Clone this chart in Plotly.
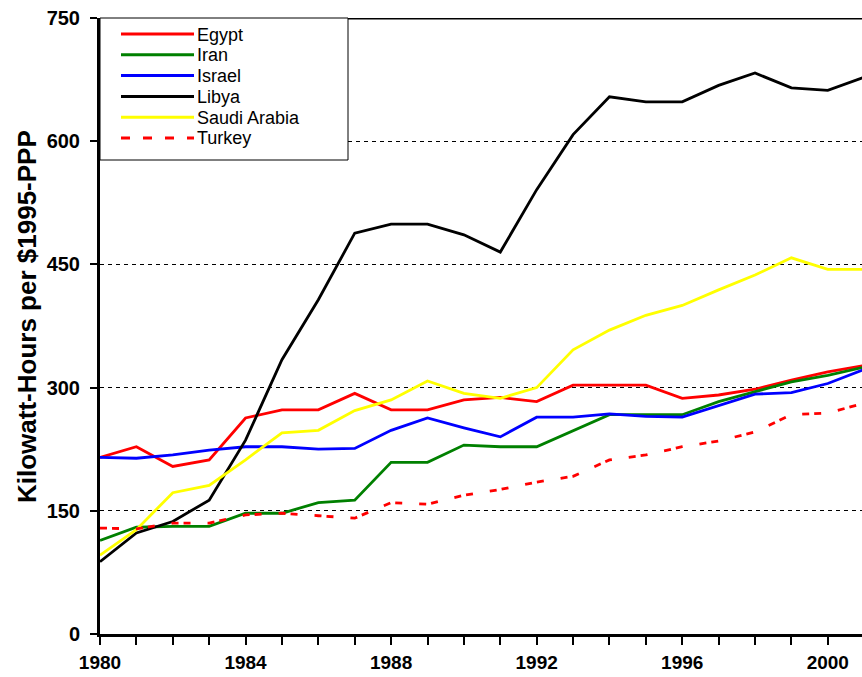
import plotly.graph_objects as go

years = list(range(1980, 2002))
egypt = [215, 228, 204, 212, 263, 273, 273, 293, 273, 273, 285, 288, 283, 303, 303, 303, 287, 291, 298, 309, 319, 327]
iran = [114, 130, 131, 131, 147, 147, 160, 163, 209, 209, 230, 228, 228, 248, 267, 267, 267, 283, 295, 307, 315, 325]
israel = [215, 214, 218, 224, 228, 228, 225, 226, 248, 263, 251, 240, 264, 264, 268, 265, 264, 278, 292, 294, 305, 322]
libya = [88, 123, 137, 163, 236, 334, 407, 488, 499, 499, 486, 465, 541, 608, 654, 648, 648, 668, 683, 665, 662, 678]
saudi = [96, 127, 172, 181, 212, 245, 248, 272, 285, 308, 293, 287, 300, 346, 370, 388, 400, 419, 437, 458, 444, 444]
turkey = [129, 128, 135, 135, 145, 147, 144, 141, 160, 158, 169, 176, 185, 192, 212, 218, 228, 235, 246, 267, 269, 281]

names = ["Egypt", "Iran", "Israel", "Libya", "Saudi Arabia", "Turkey"]
values = [egypt, iran, israel, libya, saudi, turkey]
colors = ["#ff0000", "#008000", "#0000ff", "#000000", "#ffff00", "#ff0000"]
dashes = ["solid", "solid", "solid", "solid", "solid", "7px,5px,7px,17px"]

W, H = 862, 677
ML, MR, MT, MB = 100, 0, 18, 43
PW, PH = W - ML - MR, H - MT - MB


def px(x):
    return (x - ML) / PW


def py(y):
    return (H - MB - y) / PH


fig = go.Figure()
for name, vals, color, dash in zip(names, values, colors, dashes):
    fig.add_trace(go.Scatter(x=years, y=vals, mode="lines", name=name,
                             line=dict(color=color, width=2.8, dash=dash)))

# top frame line
fig.add_shape(type="line", xref="paper", yref="y", x0=0, x1=1, y0=750, y1=750,
              line=dict(color="black", width=3))

# custom legend
fig.add_shape(type="rect", xref="paper", yref="paper", x0=px(100), x1=px(348),
              y0=py(160), y1=py(18), fillcolor="white", line=dict(color="black", width=1))
leg_dash = ["solid"] * 5 + ["9px,13px"]
for i, (name, color) in enumerate(zip(names, colors)):
    yy = 34 + i * 20.8
    fig.add_shape(type="line", xref="paper", yref="paper", x0=px(121), x1=px(194),
                  y0=py(yy), y1=py(yy), line=dict(color=color, width=3, dash=leg_dash[i]))
    fig.add_annotation(xref="paper", yref="paper", x=px(195), y=py(yy + 0.5),
                       xanchor="left", yanchor="middle", showarrow=False, text=name,
                       font=dict(size=18, family="Liberation Sans, Arial", color="black"))

# y axis title
fig.add_annotation(xref="paper", yref="paper", x=px(27), y=py(317), textangle=-90,
                   xanchor="center", yanchor="middle", showarrow=False,
                   text="Kilowatt-Hours per $1995-PPP",
                   font=dict(size=26, family="Liberation Sans, Arial", color="black", weight="bold"))

fig.update_layout(
    width=W, height=H,
    margin=dict(l=ML, r=MR, t=MT, b=MB, autoexpand=False),
    paper_bgcolor="white", plot_bgcolor="white",
    font=dict(family="Liberation Sans, Arial", color="black"),
    showlegend=False,
    xaxis=dict(range=[1980, 2000.94], tickvals=[1980, 1984, 1988, 1992, 1996, 2000],
               automargin=False,
               ticks="outside", ticklen=8, tickwidth=2, tickcolor="black",
               ticklabelstandoff=1,
               minor=dict(dtick=1, tick0=1980, ticks="outside", ticklen=8, tickwidth=2, tickcolor="black"),
               showline=True, linecolor="black", linewidth=3, showgrid=False, zeroline=False,
               tickfont=dict(size=19, family="Liberation Sans, Arial", weight="bold")),
    yaxis=dict(range=[0, 750], tickvals=[0, 150, 300, 450, 600, 750],
               automargin=False,
               ticks="outside", ticklen=7, tickwidth=2, tickcolor="black",
               ticklabelstandoff=6,
               showline=True, linecolor="black", linewidth=3,
               showgrid=True, gridcolor="black", griddash="4px,4px", gridwidth=1,
               zeroline=False,
               tickfont=dict(size=20, family="Liberation Sans, Arial", weight="bold")),
)

fig.write_html("out.html", config={"displayModeBar": False},
               post_script="document.body.style.margin='0';document.body.style.overflow='hidden';")
